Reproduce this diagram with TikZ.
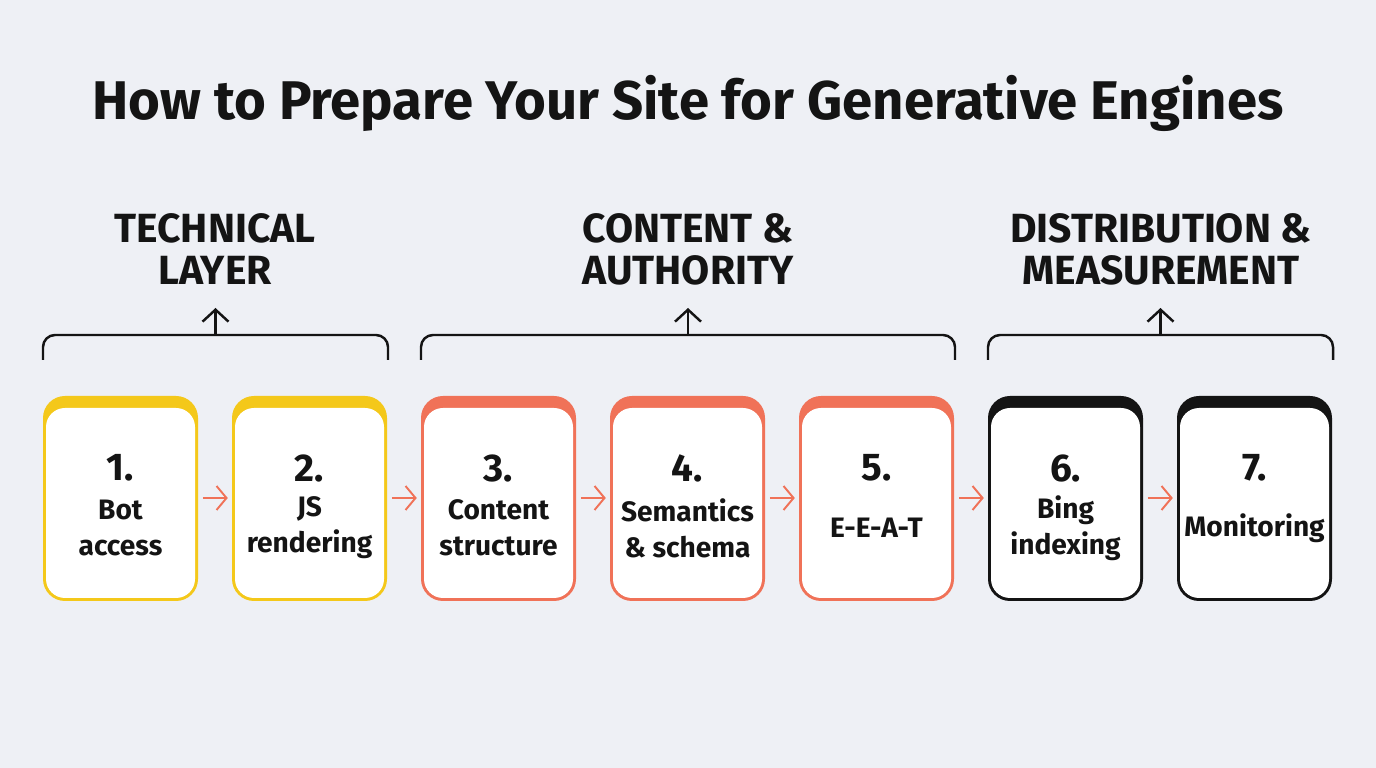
\documentclass[tikz,border=0pt]{standalone}
\usepackage{fontspec}
\setmainfont{Fira Sans}
\usetikzlibrary{positioning,arrows.meta}
\definecolor{bgc}{HTML}{EEF0F5}
\definecolor{ylw}{HTML}{F4C81A}
\definecolor{org}{HTML}{F07258}
\definecolor{blk}{HTML}{141414}
\begin{document}
\begin{tikzpicture}[x=0.1mm,y=-0.1mm,
  card/.style={align=center,font=\fontsize{8}{10.2}\selectfont\bfseries,text=blk,inner sep=0pt},
  head/.style={align=center,font=\fontsize{11.6}{12}\selectfont\bfseries,text=blk},
  link/.style={-{Straight Barb[length=1mm,width=2.4mm]},org,line width=0.55pt},
  brace/.style={blk,line width=0.7pt,rounded corners=1.2mm}]
\fill[bgc] (0,0) rectangle (1376,768);
\useasboundingbox (0,0) rectangle (1376,768);

\node[font=\fontsize{15.5}{18}\selectfont\bfseries,text=blk] (title) at (688,103) {How to Prepare Your Site for Generative Engines};

% boxes
\foreach \i/\c/\t in {1/ylw/Bot\\access, 2/ylw/JS\\rendering, 3/org/Content\\structure,
  4/org/Semantics\\\& schema, 5/org/E-E-A-T, 6/blk/Bing\\indexing, 7/blk/Monitoring}{
  \pgfmathsetmacro{\xl}{43+189*(\i-1)}
  \fill[\c,rounded corners=2.2mm] (\xl,396) rectangle ++(155,205);
  \fill[white,rounded corners=1.9mm] (\xl+3,408) rectangle ++(149,190);
  \node[card] (n\i) at (\xl+77.5,468) {\fontsize{11}{13}\selectfont\i.};
  \node[card] (t\i) at (\xl+77.5,528) {\t};
  \coordinate (l\i) at (\xl,498);
  \coordinate (r\i) at (\xl+155,498);
}
\foreach \a/\b in {1/2,2/3,3/4,4/5,5/6,6/7}
  \draw[link] ([xshift=1.4pt]r\a) -- ([xshift=-1.2pt]l\b);

% groups
\node[head] (g1) at (215,249) {TECHNICAL\\LAYER};
\node[head] (g2) at (688,249) {CONTENT \&\\AUTHORITY};
\node[head] (g3) at (1161,249) {DISTRIBUTION \&\\MEASUREMENT};
\foreach \g/\xa/\xb in {1/43/388, 2/421/955, 3/988/1333}{
  \draw[brace] (\xa,360) -- (\xa,335) -- (\xb,335) -- (\xb,360);
  \coordinate (b\g) at ({(\xa+\xb)/2},335);
  \draw[brace,-{Straight Barb[length=1.2mm,width=2.6mm]}] (b\g) -- ++(0,-27);
}
\end{tikzpicture}
\end{document}
